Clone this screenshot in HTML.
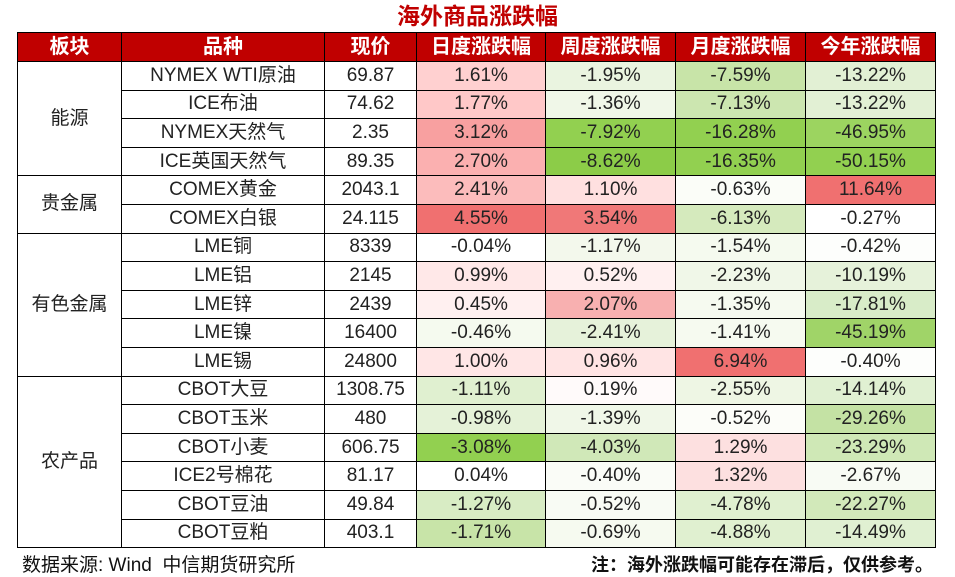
<!DOCTYPE html>
<html><head><meta charset="utf-8"><style>
body{margin:0;width:955px;height:577px;background:#fff;position:relative;font-family:"Liberation Sans","Noto Sans CJK SC",sans-serif;overflow:hidden}
.t{position:absolute;left:0;top:2px;width:955px;text-align:center;color:#c00000;font-weight:bold;font-size:23px;line-height:28px}
table{position:absolute;left:17px;top:32px;border-collapse:collapse;table-layout:fixed;font-size:19px}
td,th{border:1px solid #000;text-align:center;padding:0;height:27.6px;line-height:20px;white-space:nowrap;color:#222}
th{background:#c00000;color:#fff;font-weight:bold;height:28px;font-size:20px}
.f1{position:absolute;left:22px;top:550px;font-size:19px;color:#111}
.f2{position:absolute;right:22px;top:551px;font-size:18px;font-weight:bold;color:#111}
</style></head><body>
<div class="t">海外商品涨跌幅</div>
<table>
<colgroup><col style="width:104px"><col style="width:203px"><col style="width:92px"><col style="width:129px"><col style="width:130px"><col style="width:130px"><col style="width:130px"></colgroup>
<tr><th>板块</th><th>品种</th><th>现价</th><th>日度涨跌幅</th><th>周度涨跌幅</th><th>月度涨跌幅</th><th>今年涨跌幅</th></tr>
<tr><td rowspan="4">能源</td><td>NYMEX WTI原油</td><td>69.87</td><td style="background:#ffd0d0">1.61%</td><td style="background:#eaf4e0">-1.95%</td><td style="background:#c8e4a8">-7.59%</td><td style="background:#e2f0d4">-13.22%</td></tr>
<tr><td>ICE布油</td><td>74.62</td><td style="background:#ffc8c8">1.77%</td><td style="background:#f0f7e8">-1.36%</td><td style="background:#cce6b0">-7.13%</td><td style="background:#e2f0d4">-13.22%</td></tr>
<tr><td>NYMEX天然气</td><td>2.35</td><td style="background:#f8a0a0">3.12%</td><td style="background:#92d050">-7.92%</td><td style="background:#92d050">-16.28%</td><td style="background:#9cd460">-46.95%</td></tr>
<tr><td>ICE英国天然气</td><td>89.35</td><td style="background:#fbb0b0">2.70%</td><td style="background:#8ccc48">-8.62%</td><td style="background:#92d050">-16.35%</td><td style="background:#92d050">-50.15%</td></tr>
<tr><td rowspan="2">贵金属</td><td>COMEX黄金</td><td>2043.1</td><td style="background:#fcbcbc">2.41%</td><td style="background:#ffe0e0">1.10%</td><td style="background:#fbfdf8">-0.63%</td><td style="background:#f07070">11.64%</td></tr>
<tr><td>COMEX白银</td><td>24.115</td><td style="background:#f07070">4.55%</td><td style="background:#f07878">3.54%</td><td style="background:#d5eabd">-6.13%</td><td>-0.27%</td></tr>
<tr><td rowspan="5">有色金属</td><td>LME铜</td><td>8339</td><td>-0.04%</td><td style="background:#f3f8ec">-1.17%</td><td style="background:#f5faef">-1.54%</td><td style="background:#fdfefc">-0.42%</td></tr>
<tr><td>LME铝</td><td>2145</td><td style="background:#ffe8e8">0.99%</td><td style="background:#fff0f0">0.52%</td><td style="background:#f0f7e8">-2.23%</td><td style="background:#e6f2da">-10.19%</td></tr>
<tr><td>LME锌</td><td>2439</td><td style="background:#fff0f0">0.45%</td><td style="background:#f8b0b0">2.07%</td><td style="background:#f6faf0">-1.35%</td><td style="background:#d8ecc8">-17.81%</td></tr>
<tr><td>LME镍</td><td>16400</td><td style="background:#f5faef">-0.46%</td><td style="background:#e6f2da">-2.41%</td><td style="background:#f6faf0">-1.41%</td><td style="background:#a0d468">-45.19%</td></tr>
<tr><td>LME锡</td><td>24800</td><td style="background:#ffe6e6">1.00%</td><td style="background:#ffe4e4">0.96%</td><td style="background:#f07070">6.94%</td><td style="background:#fdfefc">-0.40%</td></tr>
<tr><td rowspan="6">农产品</td><td>CBOT大豆</td><td>1308.75</td><td style="background:#e0f0d0">-1.11%</td><td style="background:#fffafa">0.19%</td><td style="background:#eef6e4">-2.55%</td><td style="background:#e0f0d2">-14.14%</td></tr>
<tr><td>CBOT玉米</td><td>480</td><td style="background:#e5f2d8">-0.98%</td><td style="background:#f0f7e8">-1.39%</td><td style="background:#fcfdf9">-0.52%</td><td style="background:#c4e2a4">-29.26%</td></tr>
<tr><td>CBOT小麦</td><td>606.75</td><td style="background:#92d050">-3.08%</td><td style="background:#d0e8b8">-4.03%</td><td style="background:#fde0e0">1.29%</td><td style="background:#cfe8b6">-23.29%</td></tr>
<tr><td>ICE2号棉花</td><td>81.17</td><td>0.04%</td><td style="background:#fafcf7">-0.40%</td><td style="background:#fde0e0">1.32%</td><td style="background:#f8fbf4">-2.67%</td></tr>
<tr><td>CBOT豆油</td><td>49.84</td><td style="background:#d8ecc4">-1.27%</td><td style="background:#f8fbf4">-0.52%</td><td style="background:#e0f0d0">-4.78%</td><td style="background:#d2e9ba">-22.27%</td></tr>
<tr><td>CBOT豆粕</td><td>403.1</td><td style="background:#c8e4a8">-1.71%</td><td style="background:#f6faf0">-0.69%</td><td style="background:#e0f0d0">-4.88%</td><td style="background:#e0f0d2">-14.49%</td></tr>
</table>
<div class="f1">数据来源: Wind&nbsp; 中信期货研究所</div>
<div class="f2">注：海外涨跌幅可能存在滞后，仅供参考。</div>
</body></html>
